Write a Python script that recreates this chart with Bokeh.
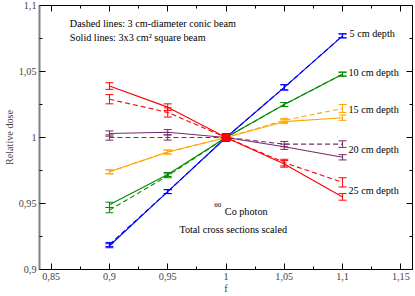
import numpy as np
from bokeh.plotting import figure
from bokeh.models import (Range1d, FixedTicker, LinearAxis, CustomJSTickFormatter,
                          Whisker, TeeHead, ColumnDataSource)
from bokeh.core.properties import value
from bokeh.embed import file_html
from bokeh.resources import INLINE

FONT = "Liberation Serif"
FS = "10.2px"

# ---- data ----
f = [0.9, 0.95, 1.0, 1.05, 1.1]

d5_solid = [0.918, 0.959, 1.000, 1.038, 1.077]
d5_dashed = [0.919, 0.959, 1.000, 1.038, 1.077]
d10_solid = [0.949, 0.972, 1.000, 1.025, 1.048]
d10_dashed = [0.945, 0.971, 1.000, 1.025, 1.048]
d15_solid = [0.974, 0.989, 1.000, 1.012, 1.015]
d15_dashed = [0.974, 0.989, 1.000, 1.013, 1.022]
d20_solid = [1.003, 1.004, 1.000, 0.993, 0.985]
d20_dashed = [1.000, 1.000, 1.000, 0.995, 0.995]
d25_solid = [1.039, 1.023, 1.000, 0.980, 0.955]
d25_dashed = [1.029, 1.019, 1.000, 0.981, 0.966]

e5_solid = [0.0015, 0.0015, 0.0, 0.002, 0.0015]
e5_dashed = [0.0015, 0.0015, 0.0, 0.002, 0.0015]
e10_solid = [0.002, 0.0015, 0.0, 0.0015, 0.0015]
e10_dashed = [0.002, 0.0015, 0.0, 0.0015, 0.0015]
e15_solid = [0.0015, 0.0015, 0.0, 0.0015, 0.002]
e15_dashed = [0.0015, 0.0015, 0.0, 0.0015, 0.003]
e20_solid = [0.002, 0.002, 0.0, 0.002, 0.002]
e20_dashed = [0.002, 0.002, 0.0, 0.002, 0.0025]
e25_solid = [0.0025, 0.0025, 0.0, 0.0025, 0.0025]
e25_dashed = [0.0035, 0.0035, 0.0, 0.0025, 0.0035]

depth_labels = ["5 cm depth", "10 cm depth", "15 cm depth", "20 cm depth", "25 cm depth"]
depth_label_y = [1.079, 1.049, 1.021, 0.991, 0.960]
depth_label_x = [1.106, 1.105, 1.105, 1.105, 1.105]

x_ticks = [0.85, 0.9, 0.95, 1.0, 1.05, 1.1, 1.15]
x_minor = [0.875, 0.925, 0.975, 1.025, 1.075, 1.125]
y_ticks = [0.9, 0.95, 1.0, 1.05, 1.1]
y_minor = [0.925, 0.975, 1.025, 1.075]

colors = ["#0000ff", "#008b00", "#ffa500", "#772a6c", "#ff0000"]

series = [
    (d5_solid, e5_solid, d5_dashed, e5_dashed),
    (d10_solid, e10_solid, d10_dashed, e10_dashed),
    (d15_solid, e15_solid, d15_dashed, e15_dashed),
    (d20_solid, e20_solid, d20_dashed, e20_dashed),
    (d25_solid, e25_solid, d25_dashed, e25_dashed),
]

p = figure(width=415, height=296, x_range=Range1d(0.84, 1.16), y_range=Range1d(0.9, 1.1),
           output_backend="svg", toolbar_location=None,
           min_border_left=34, min_border_right=3, min_border_top=5, min_border_bottom=4)
p.background_fill_color = "white"
p.border_fill_color = "white"
p.outline_line_color = "black"
p.outline_line_width = 1
p.xgrid.visible = False
p.ygrid.visible = False

fmt = CustomJSTickFormatter(code="return (Math.round(tick*1000)/1000).toString().replace('.', ',');")
blank = CustomJSTickFormatter(code="return '';")

def style_axis(ax, labels=True):
    ax.major_tick_in = 6
    ax.major_tick_out = 0
    ax.minor_tick_in = 3
    ax.minor_tick_out = 0
    ax.major_tick_line_color = "black"
    ax.minor_tick_line_color = "black"
    ax.major_label_text_font = FONT
    ax.axis_label_text_font = FONT
    ax.axis_label_text_font_style = "normal"
    ax.axis_label_text_font_size = FS
    if labels:
        ax.major_label_text_font_size = FS
        ax.major_label_standoff = 3
        ax.formatter = fmt
    else:
        ax.formatter = blank
        ax.major_label_standoff = 0
        ax.axis_line_color = None

xt = FixedTicker(ticks=x_ticks, minor_ticks=x_minor)
yt = FixedTicker(ticks=y_ticks, minor_ticks=y_minor)

xa = p.xaxis[0]
xa.ticker = xt
style_axis(xa)
xa.axis_label = "f"
xa.axis_label_standoff = 0
xa.axis_line_color = "black"

ya = p.yaxis[0]
ya.ticker = yt
style_axis(ya)
ya.axis_label = "Relative dose"
ya.axis_label_standoff = 1
ya.major_label_standoff = 3
ya.axis_line_color = "#808080"
ya.axis_line_width = 2

top = LinearAxis(ticker=FixedTicker(ticks=x_ticks, minor_ticks=x_minor))
style_axis(top, labels=False)
p.add_layout(top, "above")
right = LinearAxis(ticker=FixedTicker(ticks=y_ticks, minor_ticks=y_minor))
style_axis(right, labels=False)
p.add_layout(right, "right")

for (ys, es, yd, ed), c in zip(series, colors):
    for yy, ee, dash in ((yd, ed, "5 3"), (ys, es, "solid")):
        p.line(f, yy, line_color=c, line_width=1.1, line_dash=dash)
        xs = [a for a, e in zip(f, ee) if e > 0]
        up = [y + e for y, e in zip(yy, ee) if e > 0]
        lo = [y - e for y, e in zip(yy, ee) if e > 0]
        src = ColumnDataSource(dict(x=xs, upper=up, lower=lo))
        w = Whisker(source=src, base="x", upper="upper", lower="lower",
                    line_color=c, line_width=1,
                    upper_head=TeeHead(size=8, line_color=c, line_width=1),
                    lower_head=TeeHead(size=8, line_color=c, line_width=1))
        p.add_layout(w)

p.scatter([1.0], [1.0], marker="square", size=8, fill_color="#ff0000", line_color="#dd0000")

p.text(x=depth_label_x, y=depth_label_y, text=depth_labels, text_font=value(FONT),
       text_font_size=FS, text_baseline="middle", text_align="left", text_color="black")

p.text(x=[0.866, 0.866], y=[1.0865, 1.076],
       text=["Dashed lines: 3 cm-diameter conic beam", "Solid lines: 3x3 cm\u00b2 square beam"],
       text_font=value(FONT), text_font_size=FS, text_baseline="middle", text_align="left",
       text_color="black")

p.text(x=[0.990], y=[0.9485], text=["60"], text_font=value(FONT), text_font_size="7px",
       text_baseline="middle", text_align="left", text_color="black")
p.text(x=[0.999, 0.960], y=[0.944, 0.9305], text=["Co photon", "Total cross sections scaled"],
       text_font=value(FONT), text_font_size=FS, text_baseline="middle", text_align="left",
       text_color="black")

open("out.html", "w").write(file_html(p, INLINE))
